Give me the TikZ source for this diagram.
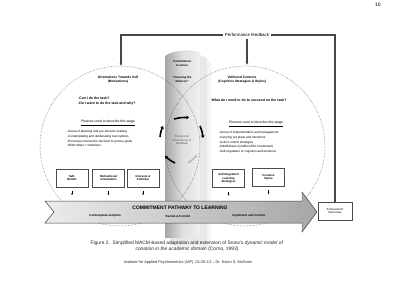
\documentclass[tikz,border=0pt]{standalone}
\usepackage{fontspec}
\setmainfont{Liberation Sans}
\usetikzlibrary{arrows.meta,shapes.geometric}
\begin{document}
\begin{tikzpicture}[x=1bp,y=-1bp,
  title/.style={font=\bfseries\fontsize{3.3}{4}\selectfont, align=center, inner sep=0},
  qs/.style={font=\bfseries\fontsize{3.5}{5}\selectfont, align=left, inner sep=0},
  phr/.style={font=\fontsize{3.4}{4}\selectfont, inner sep=0},
  bul/.style={font=\fontsize{3.1}{4.8}\selectfont, align=left, inner sep=0},
  box/.style={draw=gray!60!black, line width=0.45, fill=white, font=\bfseries\fontsize{2.9}{3.5}\selectfont, align=center, minimum width=32, minimum height=18, inner sep=1},
  fbline/.style={draw=gray!55!black, line width=1.1},
  recip/.style={line width=1.6, -{Triangle[length=2.5,width=3.5]}},
  small/.style={-{Latex[length=1.6,width=1.8]}, line width=0.4},
  ring/.style={draw=gray!60!black, densely dotted, line width=0.45}
]
\useasboundingbox (0,0) rectangle (400,300);
\fill[white] (0,0) rectangle (400,300);

% page number
\node[font=\fontsize{5}{6}\selectfont] (pg) at (378,5) {10};

% cylinder with shadow
\fill[gray!25, opacity=0.7] (200,55) -- (207,58) -- (207,245) -- (170,245) -- (170,238) -- (200,238) -- cycle;
\fill[gray!12, opacity=0.7] (207,60) -- (211,63) -- (211,248) -- (174,248) -- (174,245) -- (207,245) -- cycle;
\shade[left color=gray!70, right color=gray!12, middle color=gray!25]
  (165,56) .. controls (172,50) and (192,49) .. (200,52) -- (200,238) -- (165,238) -- cycle;
\node[title, font=\bfseries\fontsize{2.9}{3.6}\selectfont] (cta) at (182,63.5) {Commitment\\to action};
\node[title, font=\bfseries\fontsize{2.9}{3.6}\selectfont] (rub) at (182,79.5) {``Crossing the\\Rubicon''};

% circles
\draw[ring] (120,146) circle[radius=80];
\draw[ring] (245,146) circle[radius=80];

% feedback loop
\node[font=\fontsize{4.4}{5}\selectfont, inner sep=2] (fb) at (247,35) {Performance feedback};
\coordinate (ltop) at (121,66);
\coordinate (rtop) at (247,65);
\node[draw=gray!60!black, line width=0.45, fill=white, font=\fontsize{2.9}{3.5}\selectfont, align=center, minimum width=34, minimum height=18, inner sep=1] (ach) at (335,211) {Achievement\\Outcomes};
\draw[fbline, -{Latex[length=3,width=3]}] (fb.west) -| (ltop);
\draw[fbline, -{Latex[length=3,width=3]}] (fb.south) -- (rtop);
\draw[fbline] (ach.north) |- (fb.east);

% left circle texts
\node[title] (lt) at (118,80) {Orientations Towards Self\\(Motivations)};
\node[qs, anchor=west] (lq) at (78,101.5) {-Can I do the task?\\-Do I want to do the task and why?};
\node[phr] (lp) at (108,123) {\underline{Phrases used to describe this stage}};
\node[bul, anchor=north west] (lb) at (67,130) {-Arena of planning and pre-decision making\\-Contemplating and deliberating over options\\-Processes involved in decision to pursue goals\\-Wish+Want = Intentions};

% right circle texts
\node[title] (rt) at (242,80) {Volitional Controls\\(Cognitive Strategies \& Styles)};
\node[qs] (rq) at (249,100) {What do I need to do to succeed on the task?};
\node[phr] (rp) at (256,124) {\underline{Phrases used to describe this stage}};
\node[bul, anchor=north west] (rb) at (219,131) {-Arena of implementation and management\\-Carrying out plans and intentions\\-Action control strategies\\-Mindfulness (mindful effort investment)\\-Self-regulation of cognition and emotions};

% reciprocal interactions
\node[font=\fontsize{3}{3.8}\selectfont, align=center, text=gray!70!black, inner sep=0] (rec) at (182,140) {Reciprocal\\interactions \&\\feedback};
\coordinate (a1) at (174,119); \coordinate (a2) at (189,117.5);
\coordinate (b1) at (200,126); \coordinate (b2) at (203,138);
\coordinate (c1) at (197,155); \coordinate (c2) at (188,163);
\coordinate (d1) at (175,163); \coordinate (d2) at (165,156);
\coordinate (e1) at (160,137); \coordinate (e2) at (163,126);
\draw[recip] (a1) to[bend left=8] (a2);
\draw[recip] (b1) to[bend left=8] (b2);
\draw[recip, draw=gray!55, fill=gray!55] (c1) to[bend left=8] (c2);
\draw[recip] (d1) to[bend left=8] (d2);
\draw[recip] (e1) to[bend left=8] (e2);

% commitment pathway band
\shade[left color=gray!15, right color=gray!70, draw=gray!50!black, line width=0.5]
  (45,201) -- (302,201) -- (302,192) -- (317,212) -- (302,232) -- (302,223) -- (45,223) -- (54,212) -- cycle;
\node[font=\bfseries\fontsize{5}{6}\selectfont, inner sep=0] (cpl) at (180,207.5) {COMMITMENT PATHWAY TO LEARNING};
\node[font=\bfseries\fontsize{3}{4}\selectfont, inner sep=0] (cp) at (105,216) {Contemplate and plan};
\node[font=\bfseries\fontsize{3}{4}\selectfont, inner sep=0] (dc) at (178,216) {Decide \& Commit};
\node[font=\bfseries\fontsize{3}{4}\selectfont, inner sep=0] (im) at (249,215.5) {Implement and monitor};

% boxes
\node[box] (sb) at (72,178) {Self-\\Beliefs};
\node[box] (mo) at (108.5,178) {Motivational\\orientations};
\node[box] (ia) at (143,178) {Interests \&\\Attitudes};
\node[box] (srl) at (228.5,178.5) {Self-Regulated\\Learning\\Strategies};
\node[box] (cs) at (268.5,177) {Conative\\Styles};
\foreach \b in {sb,mo,ia,srl,cs}{
  \coordinate (\b-t) at ([yshift=-8]\b.south);
  \draw[small] ([yshift=-4]\b.south) -- (\b-t);
}

% caption
\node[font=\fontsize{4.9}{6.2}\selectfont, align=center, text=gray!30!black, inner sep=0] (cap) at (187,246) {Figure 2.\ \ Simplified MACM-based adaptation and extension of Snow's \textit{dynamic model of}\\\textit{conation in the academic domain} (Corno, 1993)};
\node[font=\fontsize{3.9}{5}\selectfont, text=gray!30!black, inner sep=0] (inst) at (188,262) {Institute for Applied Psychometrics (IAP), 01-05-13 -- Dr. Kevin S. McGrew};
\end{tikzpicture}
\end{document}
